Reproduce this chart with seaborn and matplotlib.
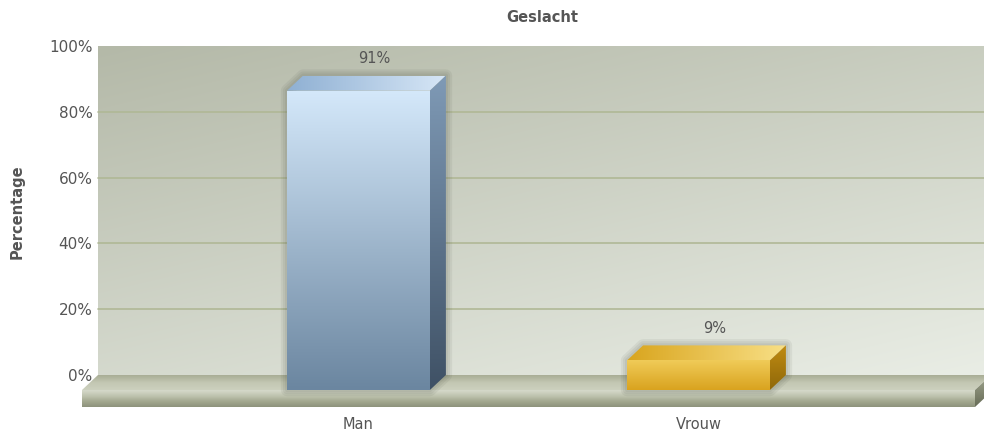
import numpy as np
import pandas as pd
import matplotlib
matplotlib.use("Agg")
import matplotlib.pyplot as plt
import seaborn as sns
from matplotlib.patches import Polygon
from matplotlib.colors import LinearSegmentedColormap, to_rgb

# data
categories = ["Man", "Vrouw"]
percentages = [91, 9]
ytick_values = [0, 20, 40, 60, 80, 100]
ytick_labels = ["0%", "20%", "40%", "60%", "80%", "100%"]

# colours (front top, front bottom, top-face left, top-face right, side top, side bottom)
bar_colors = {
    "Man": ["#d4e8fa", "#6b86a0", "#8fb0d3", "#d6e6f6", "#7f9ab6", "#3f5165"],
    "Vrouw": ["#f0cb58", "#d9a31f", "#d9a51e", "#f8df85", "#c08b12", "#8f680a"],
}
text_col = "#555555"

sns.set_style("white")
plt.rcParams["font.family"] = ["DejaVu Sans"]

W, H = 984, 434
fig = plt.figure(figsize=(W / 100, H / 100), dpi=100)

# pixel layout
ax_left_px, ax_right_px = 82, 984
wall_top_px = 46
front_zero_px = 390
unit = 3.29          # px per percent
cat_step = 340       # px between categories
man_front_px = 358.5
dx_px, dy_px = 16, 15
floor_h_px = 17
floor_right_px = 975

ddx = dx_px / cat_step
ddy = dy_px / unit
y_top = (front_zero_px - wall_top_px) / unit + 0.3
y_bot = -(floor_h_px + 2) / unit
x_left = -(man_front_px - ax_left_px) / cat_step
x_right = (ax_right_px - man_front_px) / cat_step
floor_right = (floor_right_px - man_front_px) / cat_step
floor_h = floor_h_px / unit

top_px = front_zero_px - y_top * unit
bot_px = front_zero_px - y_bot * unit
ax = fig.add_axes([ax_left_px / W, 1 - bot_px / H,
                   (ax_right_px - ax_left_px) / W, (bot_px - top_px) / H])
ax.set_facecolor("none")


def grad_poly(xy, colors, direction="v", zorder=2):
    poly = Polygon(xy, closed=True, facecolor="none", edgecolor="none", zorder=zorder)
    ax.add_patch(poly)
    xs = [p[0] for p in xy]
    ys = [p[1] for p in xy]
    cmap = LinearSegmentedColormap.from_list("g", colors)
    if direction == "v":
        g = np.linspace(0, 1, 128).reshape(-1, 1)
    else:
        g = np.linspace(0, 1, 128).reshape(1, -1)
    ax.imshow(g, cmap=cmap, extent=(min(xs), max(xs), min(ys), max(ys)),
              aspect="auto", interpolation="bicubic", clip_path=poly,
              zorder=zorder, vmin=0, vmax=1)


# back wall with diagonal gradient
nx, ny = 200, 100
gx = np.linspace(0, 1, nx)[None, :]
gy = np.linspace(0, 1, ny)[:, None]
t = np.clip(0.6 * gy + 0.4 * gx, 0, 1)
dark = np.array(to_rgb("#b4b9a8"))
light = np.array(to_rgb("#eaeee6"))
img = dark[None, None, :] * (1 - t[..., None]) + light[None, None, :] * t[..., None]
ax.imshow(img, extent=(x_left + ddx, x_right + 0.1, ddy, 100 + ddy),
          aspect="auto", interpolation="bicubic", zorder=1)

# gridlines on the wall
for v in ytick_values[1:-1]:
    ax.plot([x_left + ddx, x_right + 0.1], [v + ddy, v + ddy],
            color="#b0b896", lw=1.2, zorder=1.5)

# floor slab
fl, fr = x_left, floor_right
grad_poly([(fl, 0), (fr, 0), (fr + ddx, ddy), (fl + ddx, ddy)],
          ["#a8ad95", "#c3c7b3", "#ccd0be"], "v", zorder=2)
grad_poly([(fl, -floor_h), (fr, -floor_h), (fr, 0), (fl, 0)],
          ["#d6dacb", "#bfc4b0", "#a3a88f", "#8d927c"], "v", zorder=2)
grad_poly([(fr, 0), (fr + ddx, ddy), (fr + ddx, ddy - floor_h), (fr, -floor_h)],
          ["#9fa48e", "#676c57"], "v", zorder=2)

# bars (front faces) via seaborn
df = pd.DataFrame({"Geslacht": categories, "Percentage": percentages})
sns.barplot(data=df, x="Geslacht", y="Percentage", hue="Geslacht",
            palette=[bar_colors[c][1] for c in categories], width=0.42,
            legend=False, ax=ax, zorder=4)

for patch, cat, val in zip(ax.patches[-len(categories):], categories, percentages):
    c = bar_colors[cat]
    x0 = patch.get_x()
    x1 = x0 + patch.get_width()
    h = patch.get_height()
    patch.set_alpha(0)
    # soft shadow around the block
    outline = [(x0, 0), (x0, h), (x0 + ddx, h + ddy), (x1 + ddx, h + ddy),
               (x1 + ddx, ddy), (x1, 0)]
    for lw in (9, 6, 3):
        ax.add_patch(Polygon(outline, closed=True, facecolor="none",
                             edgecolor="#3a3f33", lw=lw, alpha=0.07,
                             joinstyle="round", zorder=3))
    grad_poly([(x0, 0), (x1, 0), (x1, h), (x0, h)], [c[0], c[1]], "v", zorder=4)
    grad_poly([(x0, h), (x1, h), (x1 + ddx, h + ddy), (x0 + ddx, h + ddy)],
              [c[2], c[3]], "h", zorder=4)
    grad_poly([(x1, 0), (x1 + ddx, ddy), (x1 + ddx, h + ddy), (x1, h)],
              [c[4], c[5]], "v", zorder=4)
    ax.annotate(f"{val}%", ((x0 + x1) / 2 + ddx, h + ddy), xytext=(0, 12),
                textcoords="offset points", ha="center", va="center",
                fontsize=10.5, color=text_col)

ax.set_xlim(x_left, x_right)
ax.set_ylim(y_bot, y_top)
ax.set_yticks([v + ddy for v in ytick_values])
ax.set_yticklabels(ytick_labels)
ax.set_xticks(range(len(categories)))
ax.set_xticklabels(categories)
ax.tick_params(axis="y", length=0, pad=-7.5, labelsize=11, labelcolor=text_col)
ax.tick_params(axis="x", length=0, pad=6, labelsize=10.5, labelcolor=text_col)
ax.set_xlabel("")
ax.set_ylabel("")
for s in ax.spines.values():
    s.set_visible(False)

fig.text((100 + 984) / 2 / W, 1 - 17 / H, "Geslacht", ha="center", va="center",
         fontsize=10.5, fontweight="bold", color=text_col)
fig.text(17 / W, 1 - 212 / H, "Percentage", rotation=90, ha="center", va="center",
         fontsize=10.5, fontweight="bold", color=text_col)

fig.savefig("out.png", dpi=100)
